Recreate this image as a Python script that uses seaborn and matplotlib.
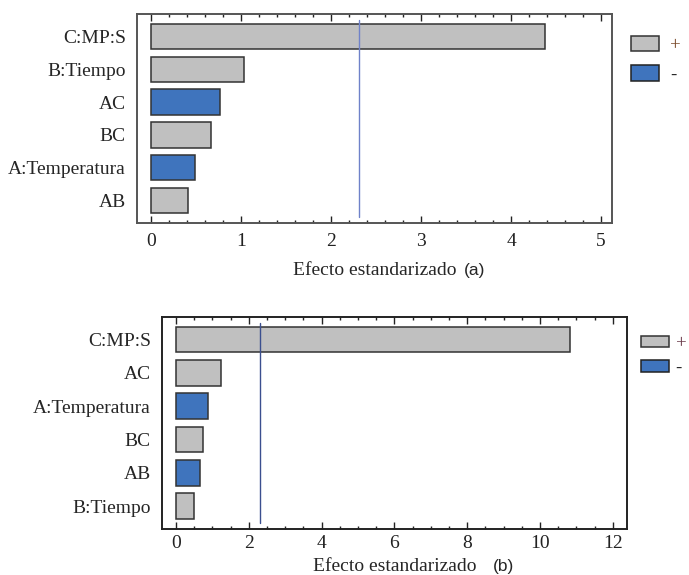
import matplotlib
matplotlib.use("Agg")
import matplotlib.pyplot as plt
from matplotlib.patches import Patch
from matplotlib.ticker import MultipleLocator
import seaborn as sns
import pandas as pd

# Panel (a)
names_a = ["C:MP:S", "B:Tiempo", "AC", "BC", "A:Temperatura", "AB"]
effects_a = [4.38, 1.03, 0.77, 0.67, 0.49, 0.41]
signs_a = ["+", "+", "-", "+", "-", "+"]
critical_a = 2.306

# Panel (b)
names_b = ["C:MP:S", "AC", "A:Temperatura", "BC", "AB", "B:Tiempo"]
effects_b = [10.82, 1.25, 0.88, 0.74, 0.67, 0.49]
signs_b = ["+", "+", "-", "+", "-", "+"]
critical_b = 2.306

GRAY = "#c0c0c0"
BLUE = "#3f74bd"
palette = {"+": GRAY, "-": BLUE}
SERIF = ["Liberation Serif", "DejaVu Serif"]

sns.set_style("white")
plt.rcParams["font.family"] = SERIF


def pareto(ax, names, effects, signs, crit, xlim, major, minor, line_color,
           spine_color, panel, panel_dx, xlab_y, leg, tick_pad):
    df = pd.DataFrame({"term": names, "effect": effects, "sign": signs})
    sns.barplot(data=df, x="effect", y="term", hue="sign", palette=palette,
                dodge=False, width=0.77, saturation=1, edgecolor="#333333",
                linewidth=1.1, legend=False, ax=ax)
    ax.axvline(crit, color=line_color, lw=1.0, ymin=0.03, ymax=0.97)
    ax.set_xlim(*xlim)
    ax.set_ylim(len(names) - 1 + 0.68, -0.68)
    ax.xaxis.set_major_locator(MultipleLocator(major))
    ax.xaxis.set_minor_locator(MultipleLocator(minor))
    ax.tick_params(axis="x", which="major", direction="in", length=5,
                   width=1, top=True, bottom=True, labelsize=14, pad=tick_pad,
                   colors="#222222")
    ax.tick_params(axis="x", which="minor", direction="in", length=2.5,
                   width=1, top=True, bottom=True, colors="#222222")
    ax.tick_params(axis="y", length=0, labelsize=14, pad=8)
    ax.set_xlabel("")
    ax.set_ylabel("")
    for s in ax.spines.values():
        s.set_color(spine_color)
        s.set_linewidth(1.4)
    ax.text(0.5, xlab_y, "Efecto estandarizado", transform=ax.transAxes,
            ha="center", va="center", fontsize=14)
    ax.text(0.5 + panel_dx, xlab_y, panel, transform=ax.transAxes,
            ha="center", va="center", fontsize=12.5,
            family=["Liberation Sans", "DejaVu Sans"])
    handles = [Patch(facecolor=GRAY, edgecolor="#333333", lw=1.1),
               Patch(facecolor=BLUE, edgecolor="#222222", lw=1.1)]
    lg = ax.legend(handles, ["+", "-"], loc="upper left",
                   bbox_to_anchor=leg["anchor"], frameon=False, borderpad=0,
                   borderaxespad=0, fontsize=13.5, handlelength=1.5,
                   handleheight=leg["hh"], labelspacing=leg["ls"],
                   handletextpad=leg["tp"])
    lg.get_texts()[0].set_color(leg["plus"])


fig = plt.figure(figsize=(6.89, 5.75), dpi=100)
ax_a = fig.add_axes([0.1988, 0.6122, 0.6894, 0.3635])
ax_b = fig.add_axes([0.2351, 0.0800, 0.6749, 0.3687])

pareto(ax_a, names_a, effects_a, signs_a, critical_a, (-0.155, 5.12), 1, 0.2,
       "#6f82c9", "#555555", "(a)", 0.21, -0.225,
       {"anchor": (1.04, 0.895), "hh": 0.9, "ls": 0.6, "tp": 0.6,
        "plus": "#7a4a2a"}, 7)
pareto(ax_b, names_b, effects_b, signs_b, critical_b, (-0.385, 12.39), 2, 0.5,
       "#3b4f8f", "#222222", "(b)", 0.235, -0.175,
       {"anchor": (1.03, 0.915), "hh": 0.55, "ls": 0.4, "tp": 0.35,
        "plus": "#6a3a4a"}, 4)

fig.savefig("out.png", dpi=100)
